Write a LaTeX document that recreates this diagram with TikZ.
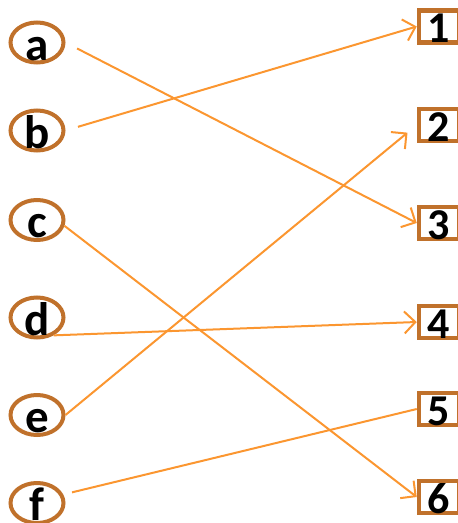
\documentclass[tikz,border=0pt]{standalone}
\usepackage{fontspec}
\setmainfont{Carlito}
\usetikzlibrary{
  arrows.meta, % For arrow tips
  shapes.geometric % For the ellipses
}
\definecolor{rim}{HTML}{C0712B}
\definecolor{wire}{HTML}{FB9630}
% Text sitzt tief im Rahmen
\newcommand\sink[2]{\raisebox{-#1}[0pt][0pt]{#2}}

\begin{document}
\begin{tikzpicture}[
      x=1pt, y=-1pt,
      letter/.style={ellipse, draw=rim, line width=4pt, minimum width=53pt,
        minimum height=40pt, inner sep=0pt, font=\fontsize{47}{47}\selectfont\bfseries},
      digit/.style={rectangle, draw=rim, line width=4.5pt, minimum width=40pt,
        minimum height=32pt, inner sep=0pt, font=\fontsize{44}{44}\selectfont\bfseries},
      link/.style={wire, line width=2pt},
      pick/.style={link, -{Straight Barb[length=11pt, width=22pt, line width=2pt]}},
    ]

    \useasboundingbox (0,0) rectangle (458,523);

    % Buchstaben links
    \foreach \n/\y in {a/42.5, b/130.5, c/220, d/317.5, e/415, f/503}
    \node[letter] (\n) at (37,\y) {\sink{17.5pt}{\n}};

    % Ziffern rechts
    \foreach \n/\y in {1/26.5, 2/125, 3/223, 4/322, 5/409, 6/497}
    \node[digit] (n\n) at (439,\y) {\sink{16pt}{\n}};

    % Zuordnungen
    \draw[pick, shorten <=13pt] (a.east) -- (n3.west);
    \draw[pick, shorten <=13pt] (b.east) -- (n1.west);
    \draw[pick] (c.-12) -- (n6.west);
    \draw[pick] (d.-47) -- (n4.west);
    \draw[pick, shorten >=12pt] (e.east) -- (n2.west);
    \draw[link, shorten <=9pt] (f.18) -- (n5.west);
  \end{tikzpicture}
\end{document}
